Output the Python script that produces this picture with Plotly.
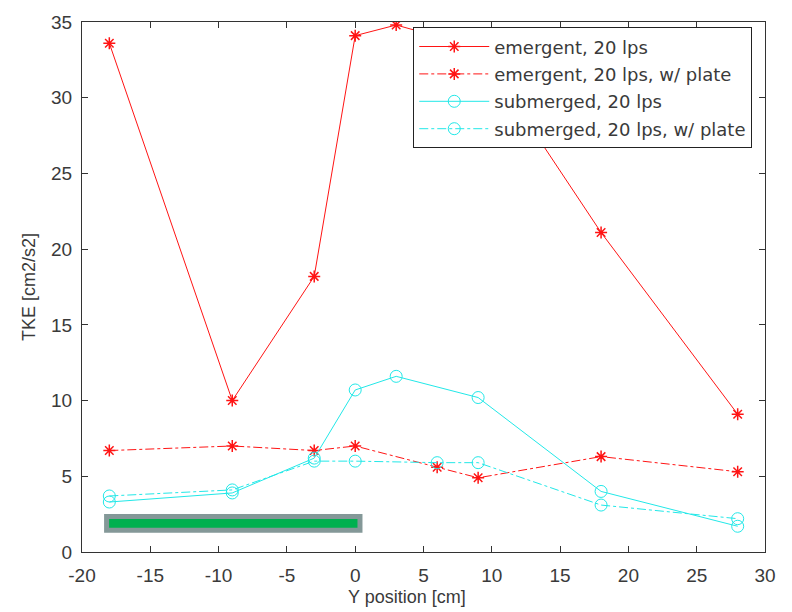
import plotly.graph_objects as go

# Data
x_emergent = [-18, -9, -3, 0, 3, 9, 18, 28]
y_emergent = [33.6, 10.0, 18.2, 34.1, 34.8, 33.3, 21.1, 9.1]

x_emergent_plate = [-18, -9, -3, 0, 6, 9, 18, 28]
y_emergent_plate = [6.7, 7.0, 6.7, 7.0, 5.6, 4.9, 6.3, 5.3]

x_submerged = [-18, -9, -3, 0, 3, 9, 18, 28]
y_submerged = [3.3, 3.9, 6.2, 10.7, 11.6, 10.2, 4.0, 1.7]

x_submerged_plate = [-18, -9, -3, 0, 6, 9, 18, 28]
y_submerged_plate = [3.7, 4.1, 6.0, 6.0, 5.9, 5.9, 3.1, 2.2]

names = ["emergent, 20 lps", "emergent, 20 lps, w/ plate",
         "submerged, 20 lps", "submerged, 20 lps, w/ plate"]

x_ticks = [-20, -15, -10, -5, 0, 5, 10, 15, 20, 25, 30]
y_ticks = [0, 5, 10, 15, 20, 25, 30, 35]

# plate indicator extent (data units)
plate_x = [-18.2, 0.35]
plate_y = [1.43, 2.34]

RED = "#ff1414"
CYAN = "#22e8e8"
TXT = "#3a3a3a"
FONT = "Liberation Sans, Arial"

series = [
    (x_emergent, y_emergent, RED, "solid", "asterisk-open", 10, 1.5),
    (x_emergent_plate, y_emergent_plate, RED, "dashdot", "asterisk-open", 10, 1.5),
    (x_submerged, y_submerged, CYAN, "solid", "circle-open", 12, 1),
    (x_submerged_plate, y_submerged_plate, CYAN, "dashdot", "circle-open", 12, 1),
]

fig = go.Figure()
for i, (xs, ys, col, dash, sym, size, mlw) in enumerate(series):
    fig.add_trace(go.Scatter(
        x=xs, y=ys, name=names[i], legendgroup="g%d" % i, mode="lines+markers",
        line=dict(color=col, width=1, dash=dash),
        marker=dict(symbol=sym, size=size, color=col, line=dict(color=col, width=mlw))))

fig.add_shape(type="rect", xref="x", yref="y",
              x0=plate_x[0], x1=plate_x[1], y0=plate_y[0], y1=plate_y[1],
              line=dict(color="#849898", width=5), fillcolor="#00b04f", layer="above")

axis_common = dict(showgrid=False, zeroline=False, showline=True, linecolor="#333333",
                   linewidth=1, mirror="ticks", ticks="inside", ticklen=6,
                   tickcolor="#333333", tickfont=dict(family=FONT, size=19, color=TXT))

fig.update_xaxes(range=[-20, 30], tickvals=x_ticks, ticktext=[str(v) for v in x_ticks],
                 ticklabelstandoff=6, **axis_common)
fig.update_yaxes(range=[0, 35], tickvals=y_ticks, ticktext=[str(v) for v in y_ticks],
                 ticklabelstandoff=5,
                 title=dict(text="TKE [cm2/s2]", font=dict(family=FONT, size=18, color=TXT),
                            standoff=10),
                 **axis_common)

fig.add_annotation(text="Y position [cm]", xref="paper", yref="paper",
                   x=0.476, y=-0.085, xanchor="center", yanchor="middle", showarrow=False,
                   font=dict(family=FONT, size=18, color=TXT))

fig.update_layout(
    width=792, height=612,
    margin=dict(l=82, r=27, t=15, b=60),
    plot_bgcolor="white", paper_bgcolor="white",
    showlegend=True,
    legend=dict(x=0.485, y=0.99, xanchor="left", yanchor="top",
                bgcolor="white", bordercolor="#222222", borderwidth=1,
                font=dict(family="DejaVu Sans", size=18, color=TXT),
                itemwidth=70, tracegroupgap=1),
)

fig.write_html("out.html")
